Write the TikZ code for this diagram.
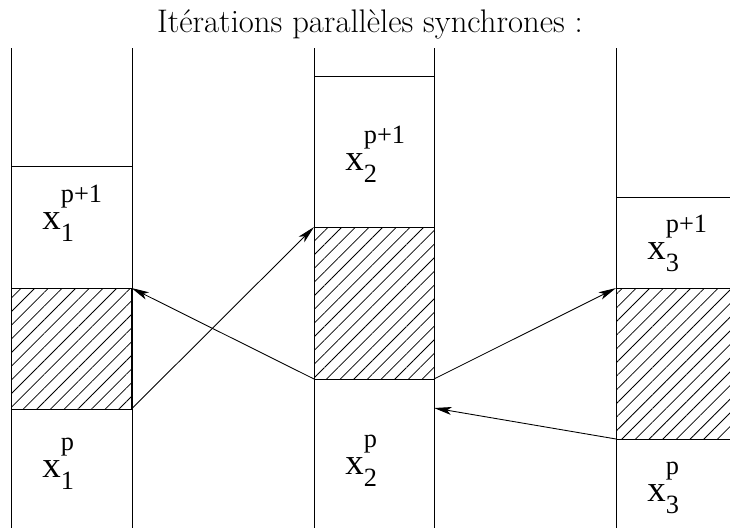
\documentclass[tikz,border=0pt]{standalone}
\usepackage{fontspec}
\usepackage{tikz}
\usetikzlibrary{arrows.meta,patterns.meta}
\newfontfamily\labfont{Liberation Serif}
\newcommand{\xvar}[2]{{\labfont\fontsize{21}{24}\selectfont x\fontsize{15}{16}\selectfont\rlap{\raisebox{15pt}{#2}}\raisebox{-7pt}{#1}}}

\begin{document}
\begin{tikzpicture}[x=0.02cm, y=-0.02cm, line width=0.5pt, >={Stealth[length=10pt,width=4.5pt,inset=2.5pt]},
    hatchbox/.style={draw, inner sep=0pt, outer sep=0pt, minimum width=2.4cm,
        pattern={Lines[angle=45,distance=5.5pt,line width=0.45pt]}},
    lab/.style={anchor=base west, inner sep=0pt}]
    \useasboundingbox (0,0) rectangle (730,528);
    \clip (0,0) rectangle (730,528);
    \node[anchor=base, font=\fontsize{18.6}{22}\selectfont] (title) at (370,32) {Itérations parallèles synchrones :};
    % columns
    \draw (11,48) -- (11,528) (132,48) -- (132,528) (11,166) -- (132,166);
    \draw (314,48) -- (314,528) (434,48) -- (434,528) (314,76) -- (434,76);
    \draw (616,48) -- (616,528) (736,48) -- (736,528) (616,197) -- (736,197);
    % hatched blocks
    \node[hatchbox, minimum height=2.42cm] (h1) at (71.5,348.5) {};
    \node[hatchbox, minimum height=3.04cm] (h2) at (374,303) {};
    \node[hatchbox, minimum height=3.02cm] (h3) at (676,363.5) {};
    \coordinate (c2) at (434,408);
    % labels
    \node[lab] (x1n) at (42,229) {\xvar{1}{p+1}};
    \node[lab] (x1o) at (42,477) {\xvar{1}{p}};
    \node[lab] (x2n) at (345,170) {\xvar{2}{p+1}};
    \node[lab] (x2o) at (345,474) {\xvar{2}{p}};
    \node[lab] (x3n) at (647,259) {\xvar{3}{p+1}};
    \node[lab] (x3o) at (647,501) {\xvar{3}{p}};
    % exchanges
    \draw[->] (h2.south west) -- (h1.north east);
    \draw[->] (h1.south east) -- (h2.north west);
    \draw[->] (h2.south east) -- (h3.north west);
    \draw[->] (h3.south west) -- (c2);
\end{tikzpicture}
\end{document}
